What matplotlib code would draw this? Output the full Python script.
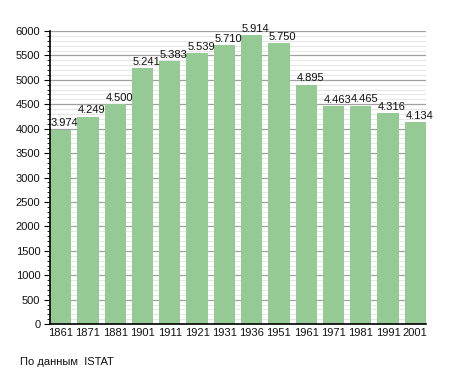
import matplotlib.pyplot as plt
from matplotlib.ticker import MultipleLocator

plt.rcParams['font.family'] = ['Liberation Sans', 'DejaVu Sans']

years = ['1861', '1871', '1881', '1901', '1911', '1921', '1931',
         '1936', '1951', '1961', '1971', '1981', '1991', '2001']
population = [3974, 4249, 4500, 5241, 5383, 5539, 5710,
              5914, 5750, 4895, 4463, 4465, 4316, 4134]

fig = plt.figure(figsize=(4.55, 3.73), dpi=100)
ax = fig.add_axes([0.110, 0.131, 0.826, 0.786])

x = list(range(len(years)))
w = 0.78
ax.bar(x, population, width=w, color='#95ca95', zorder=2)

for xi, v in zip(x, population):
    lbl = f'{v:,}'.replace(',', '.')
    ax.text(xi - w / 2 + 0.03, v + 30, lbl, ha='left', va='bottom',
            fontsize=8, color='#111111', zorder=3)

ax.set_xlim(-w / 2, len(years) - 1 + w / 2)
ax.set_ylim(0, 6000)
ax.yaxis.set_major_locator(MultipleLocator(500))
ax.yaxis.set_minor_locator(MultipleLocator(100))
ax.grid(axis='y', which='major', color='#a0a0a0', linewidth=0.9, zorder=1)
ax.grid(axis='y', which='minor', color='#e6e6e6', linewidth=0.7, zorder=1)

ax.set_xticks(x)
ax.set_xticklabels(years)
ax.tick_params(axis='x', length=0, labelsize=8, pad=3, labelcolor='#111111')
ax.tick_params(axis='y', which='major', length=4, labelsize=8, pad=3,
               labelcolor='#111111')
ax.tick_params(axis='y', which='minor', length=2.5)

for s in ['top', 'right']:
    ax.spines[s].set_visible(False)
ax.spines['left'].set_linewidth(1.2)
ax.spines['bottom'].set_linewidth(1.2)

fig.text(20 / 455, 1 - 362 / 373, 'По данным  ISTAT', fontsize=8,
         ha='left', va='center', color='#111111')

fig.savefig('out.png', dpi=100)
